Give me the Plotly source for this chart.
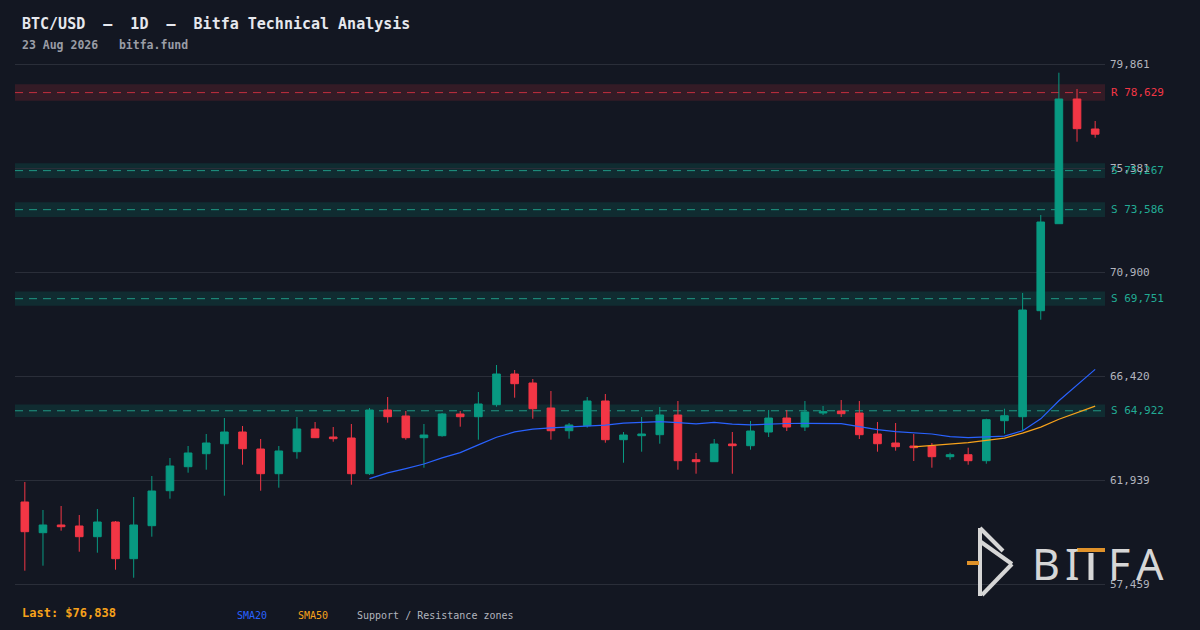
import pandas as pd
import plotly.graph_objects as go

# Daily BTC/USD candles, last 60 sessions
opens = [60992, 59669, 60001, 59958, 59497, 60130, 58549, 59971, 61478, 62512,
         63072, 63503, 64007, 63275, 62211, 63159, 64137, 63792, 63749, 62211,
         64955, 64697, 63762, 63848, 64783, 64666, 65183, 66506, 66118, 65041,
         64063, 64279, 65343, 63676, 63848, 63891, 64740, 62814, 62728, 63490,
         63417, 64007, 64610, 64223, 64826, 64912, 64826, 63921, 63533, 63404,
         63404, 62943, 63029, 62771, 64494, 64666, 69233, 72981, 78353, 77061]
highs = [61853, 60647, 60819, 60432, 60690, 60173, 61207, 62112, 62887, 63404,
         63921, 64610, 64266, 63706, 63404, 64653, 64438, 64223, 64352, 65041,
         65515, 64912, 64352, 64826, 64912, 65730, 66894, 66678, 66291, 65774,
         64395, 65515, 65644, 64007, 64653, 65084, 65343, 63103, 63706, 64007,
         64481, 64955, 64955, 65343, 65127, 65386, 65343, 64438, 64395, 63921,
         63533, 63115, 63331, 64580, 65011, 69996, 73356, 79486, 78784, 77405]
lows = [58032, 58247, 59755, 58850, 58807, 58075, 57730, 59497, 61134, 62254,
        62383, 61263, 62599, 61478, 61608, 62857, 63762, 63589, 61737, 62155,
        64408, 63676, 62469, 63805, 64236, 63676, 65097, 65485, 64580, 63676,
        63719, 64193, 63546, 62685, 63159, 63503, 62383, 62211, 62728, 62211,
        63245, 63792, 64050, 64050, 64740, 64653, 63706, 63159, 63202, 62758,
        62469, 62814, 62599, 62642, 63934, 64063, 68845, 72981, 76514, 76686]
closes = [59712, 60001, 59927, 59497, 60130, 58549, 60001, 61465, 62543, 63103,
          63533, 64007, 63288, 62211, 63189, 64137, 63762, 63719, 62211, 64955,
          64666, 63762, 63878, 64783, 64666, 65214, 66506, 66088, 65011, 64063,
          64309, 65343, 63676, 63878, 63921, 64740, 62771, 62728, 63490, 63417,
          64050, 64610, 64223, 64869, 64882, 64796, 63891, 63503, 63374, 63331,
          62943, 63029, 62771, 64537, 64709, 69263, 73054, 78353, 77074, 76838]

# Support / resistance zones
levels = [78629, 75267, 73586, 69751, 64922]
level_kinds = ["R", "S", "S", "S", "S"]
zone_half_widths = [355, 316, 316, 310, 267]

# Right axis ticks
tick_values = [57459, 61939, 66420, 70900, 75381, 79861]

BG = "#131722"
UP = "#089981"
DOWN = "#f23645"
FONT = "DejaVu Sans Mono"

df = pd.DataFrame({"open": opens, "high": highs, "low": lows, "close": closes})
df["date"] = pd.date_range(end="2026-08-23", periods=len(df), freq="D")
df["sma20"] = df["close"].rolling(20).mean()
df["sma50"] = df["close"].rolling(50).mean()

fig = go.Figure()

fig.add_trace(go.Candlestick(
    x=df["date"], open=df["open"], high=df["high"], low=df["low"], close=df["close"],
    increasing=dict(line=dict(color=UP, width=1), fillcolor=UP),
    decreasing=dict(line=dict(color=DOWN, width=1), fillcolor=DOWN),
    whiskerwidth=0, showlegend=False, hoverinfo="skip",
))
fig.add_trace(go.Scatter(x=df["date"], y=df["sma20"], mode="lines",
                         line=dict(color="#2962ff", width=1.2), showlegend=False, hoverinfo="skip"))
fig.add_trace(go.Scatter(x=df["date"], y=df["sma50"], mode="lines",
                         line=dict(color="#f7a21b", width=1.2), showlegend=False, hoverinfo="skip"))

# zones, dashed level lines and labels
for lvl, kind, hw in zip(levels, level_kinds, zone_half_widths):
    if kind == "R":
        fill, dash_col, txt_col = "rgba(242,54,69,0.15)", "rgba(242,54,69,0.75)", DOWN
    else:
        fill, dash_col, txt_col = "rgba(8,153,129,0.16)", "rgba(34,171,148,0.85)", "#22ab94"
    fig.add_shape(type="rect", xref="paper", yref="y", x0=0, x1=1, y0=lvl - hw, y1=lvl + hw,
                  fillcolor=fill, line_width=0, layer="below")
    fig.add_shape(type="line", xref="paper", yref="y", x0=0, x1=1, y0=lvl, y1=lvl,
                  line=dict(color=dash_col, width=1, dash="8px,6px"), layer="below")
    fig.add_annotation(text=f"{kind} {lvl:,}", xref="paper", yref="y", x=1, y=lvl,
                       xanchor="left", yanchor="middle", xshift=4, showarrow=False,
                       font=dict(family=FONT, size=11, color=txt_col))


def px_x(px):
    return (px - 15) / 1090


def px_y(py):
    return (595 - py) / 540


# titles
fig.add_annotation(text="BTC/USD\u00a0\u00a0\u2013\u00a0\u00a01D\u00a0\u00a0\u2013\u00a0\u00a0Bitfa Technical Analysis",
                   xref="paper", yref="paper", x=px_x(20), y=px_y(24), xanchor="left", yanchor="middle",
                   showarrow=False, font=dict(family=FONT, size=15, color="#e6e8ee", weight="bold"))
fig.add_annotation(text="23 Aug 2026\u00a0\u00a0\u00a0bitfa.fund",
                   xref="paper", yref="paper", x=px_x(20), y=px_y(45), xanchor="left", yanchor="middle",
                   showarrow=False, font=dict(family=FONT, size=11.5, color="#9a9da6", weight="bold"))

# footer
fig.add_annotation(text="Last: $76,838", xref="paper", yref="paper", x=px_x(20), y=px_y(613),
                   xanchor="left", yanchor="middle", showarrow=False,
                   font=dict(family=FONT, size=12, color="#f7a21b", weight="bold"))
for txt, xpx, col in [("SMA20", 235, "#2962ff"), ("SMA50", 296, "#f7a21b"),
                      ("Support / Resistance zones", 355, "#b2b5be")]:
    fig.add_annotation(text=txt, xref="paper", yref="paper", x=px_x(xpx), y=px_y(615),
                       xanchor="left", yanchor="middle", showarrow=False,
                       font=dict(family=FONT, size=10, color=col))

# BITFA logo (glyph + letters, the T drawn with an orange crossbar)
logo_grey = "#d6d6d6"
logo_orange = "#e0922a"
for (xa, ya, xb, yb) in [(980, 528, 980, 596), (980, 528, 1003, 551),
                         (981, 542, 1012, 564), (1012, 564, 982, 595)]:
    fig.add_shape(type="line", xref="paper", yref="paper", x0=px_x(xa), y0=px_y(ya),
                  x1=px_x(xb), y1=px_y(yb), line=dict(color=logo_grey, width=4))
fig.add_shape(type="line", xref="paper", yref="paper", x0=px_x(967), y0=px_y(563),
              x1=px_x(979), y1=px_y(563), line=dict(color=logo_orange, width=4))
for letter, cx in [("B", 1046), ("I", 1072), ("F", 1119), ("A", 1150)]:
    fig.add_annotation(text=letter, xref="paper", yref="paper", x=px_x(cx), y=px_y(563),
                       xanchor="center", yanchor="middle", showarrow=False,
                       font=dict(family="Noto Sans", size=43, color=logo_grey))
fig.add_shape(type="rect", xref="paper", yref="paper", x0=px_x(1077), x1=px_x(1105),
              y0=px_y(552), y1=px_y(548), fillcolor=logo_orange, line_width=0)
fig.add_shape(type="rect", xref="paper", yref="paper", x0=px_x(1088.5), x1=px_x(1093.5),
              y0=px_y(580), y1=px_y(553), fillcolor=logo_grey, line_width=0)

x_pad = pd.Timedelta(hours=13)
fig.update_layout(
    width=1200, height=630,
    paper_bgcolor=BG, plot_bgcolor=BG,
    margin=dict(l=15, r=95, t=55, b=35),
    boxgap=0.4,
    font=dict(family=FONT),
    xaxis=dict(range=[df["date"].iloc[0] - x_pad, df["date"].iloc[-1] + x_pad],
               rangeslider=dict(visible=False), showgrid=False, zeroline=False,
               showticklabels=False, showline=False),
    yaxis=dict(side="right", range=[56985, 80249], tickvals=tick_values,
               ticktext=[f"{v:,}" for v in tick_values], showgrid=True, gridcolor="#2a2e39",
               gridwidth=1, zeroline=False, showline=False, ticks="", ticklabelstandoff=4,
               tickfont=dict(family=FONT, size=11, color="#b2b5be")),
)

# drop the default page margin so the 1200x630 figure fills the window exactly
fig.write_html("out.html", config={"displayModeBar": False},
               post_script="document.body.style.margin='0';")
